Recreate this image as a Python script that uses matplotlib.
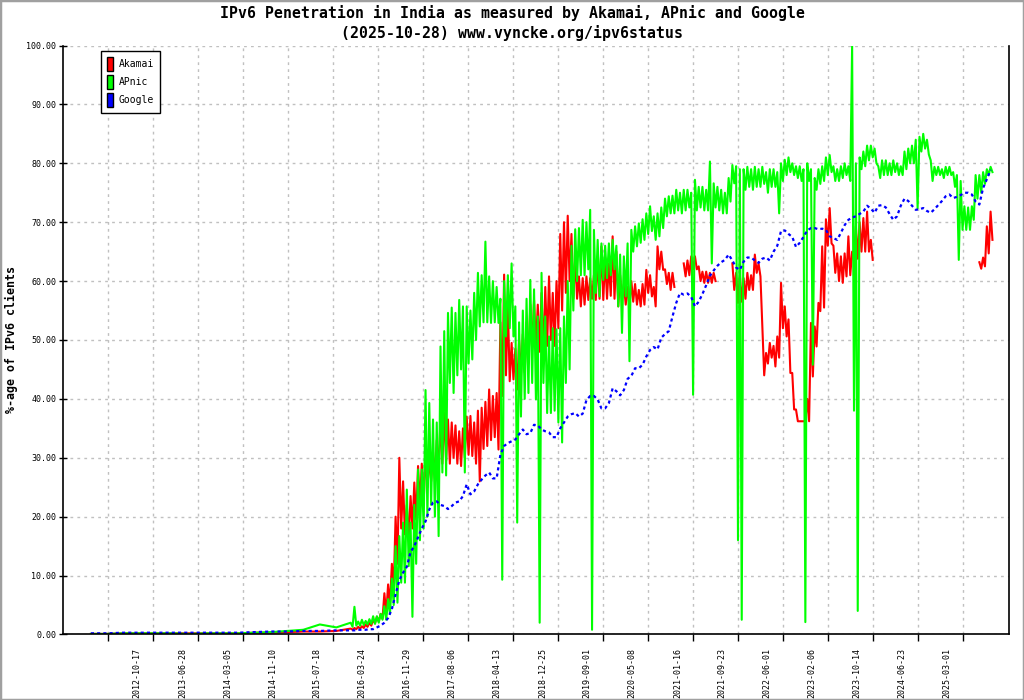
import numpy as np
import pandas as pd
import matplotlib
matplotlib.use("Agg")
import matplotlib.pyplot as plt
import matplotlib.dates as mdates
from matplotlib.patches import Patch, Rectangle

title = ("IPv6 Penetration in India as measured by Akamai, APnic and Google\n"
         "(2025-10-28) www.vyncke.org/ipv6status")
ylabel = "%-age of IPv6 clients"
names = ["Akamai", "APnic", "Google"]
colors = ["#ff0000", "#00ff00", "#0000ff"]
tick_labels = ["2012-10-17", "2013-06-28", "2014-03-05", "2014-11-10", "2015-07-18",
               "2016-03-24", "2016-11-29", "2017-08-06", "2018-04-13", "2018-12-25",
               "2019-09-01", "2020-05-08", "2021-01-16", "2021-09-23", "2022-06-01",
               "2023-02-06", "2023-10-14", "2024-06-23", "2025-03-01"]

# quarterly readings 2012-02 .. 2015-11, then 3-weekly readings 2016-01 .. 2025-10-28
early_dates = pd.date_range("2012-02-01", "2015-11-01", freq="3MS")
late_dates = pd.date_range("2016-01-20", "2025-10-28", periods=172)

akamai_early = [0.1, 0.1, 0.2, 0.2, 0.2, 0.2, 0.2, 0.2, 0.2, 0.2, 0.3, 0.3, 0.4, 0.5, 0.5, 0.6]
apnic_early = [0.1, 0.1, 0.2, 0.2, 0.2, 0.2, 0.1, 0.2, 0.2, 0.2, 0.3, 0.4, 0.6, 0.8, 1.7, 1.2]
google_early = [0.2, 0.2, 0.3, 0.3, 0.3, 0.3, 0.3, 0.3, 0.3, 0.3, 0.4, 0.5, 0.5, 0.6, 0.6, 0.7]

nan = np.nan
# daily values swing a lot: for each 3-week reading, the highest and lowest value seen
akamai_high = [
    1.0, 1.1, 1.3, 1.4, 1.7, 2.0, 2.5, 3.0, 3.5, 7.0,
    8.5, 12.0, 20.0, 30.0, 26.0, 22.0, 23.5, 25.8, 28.6, 29.0,
    30.8, 30.0, 31.0, 33.0, 37.0, 37.6, 36.5, 36.0, 35.5, 34.5,
    35.0, 37.0, 37.1, 36.0, 38.0, 38.5, 39.5, 41.6, 40.5, 41.0,
    53.0, 61.1, 56.0, 49.5, 48.5, 50.0, 51.0, 53.0, 56.0, 56.8,
    56.0, 58.0, 59.0, 60.8, 58.0, 60.0, 68.0, 70.0, 71.1, 68.0,
    64.0, 60.8, 60.5, 60.8, 60.5, 61.0, 64.2, 65.9, 64.0, 63.0,
    67.6, 65.0, 61.0, 59.5, 59.0, 60.0, 59.5, 58.5, 59.5, 61.9,
    61.0, 59.0, 65.9, 65.0, 62.0, 61.4, 61.4, nan, nan, 63.0,
    63.5, 64.2, 64.2, 62.5, 61.6, 61.6, 61.4, 61.4, nan, nan,
    nan, nan, 63.0, 61.4, 61.0, 60.5, 61.4, 61.0, 64.5, 63.0,
    52.3, 47.8, 49.5, 49.0, 50.6, 59.7, 55.7, 53.5, 44.4, 38.2,
    36.2, 36.2, 40.0, 52.9, 52.3, 56.3, 65.9, 70.5, 72.4, 66.0,
    64.7, 64.2, 64.7, 67.6, 65.0, 69.3, 70.0, 70.7, 71.8, 67.0,
    nan, nan, nan, nan, nan, nan, nan, nan, nan, nan,
    nan, nan, nan, nan, nan, nan, nan, nan, nan, nan,
    nan, nan, nan, nan, nan, nan, nan, nan, 63.2, 64.0,
    69.3, 71.8]
akamai_low = [
    0.8, 0.9, 1.0, 1.1, 1.3, 1.5, 1.9, 2.2, 2.7, 3.5,
    5.0, 8.0, 12.0, 18.0, 17.0, 16.0, 18.0, 19.5, 22.0, 22.4,
    25.0, 26.0, 26.5, 27.0, 29.0, 29.5, 29.0, 30.0, 29.0, 28.6,
    30.0, 30.5, 30.3, 29.0, 26.0, 31.5, 32.0, 33.0, 33.5, 31.4,
    40.5, 44.0, 43.0, 43.3, 41.6, 44.0, 44.5, 46.0, 48.4, 49.0,
    48.0, 47.2, 49.0, 50.0, 49.0, 52.0, 55.0, 58.0, 60.0, 57.0,
    57.0, 55.7, 56.0, 56.8, 57.0, 56.8, 57.0, 56.8, 57.0, 57.5,
    57.0, 55.7, 57.0, 56.0, 55.7, 56.5, 56.0, 55.7, 56.0, 58.0,
    57.4, 55.7, 62.0, 61.9, 59.5, 58.5, 59.0, nan, nan, 60.8,
    61.0, 62.0, 62.0, 60.0, 59.7, 59.7, 59.7, 60.0, nan, nan,
    nan, nan, 58.5, 56.3, 56.5, 57.0, 58.5, 58.5, 61.4, 60.8,
    44.0, 46.0, 47.0, 45.5, 47.0, 52.0, 50.6, 44.4, 38.2, 36.2,
    36.2, 36.2, 36.2, 43.8, 48.9, 54.9, 55.5, 66.0, 66.4, 61.4,
    60.0, 59.7, 60.8, 61.0, 63.5, 63.8, 65.0, 65.0, 65.0, 63.6,
    nan, nan, nan, nan, nan, nan, nan, nan, nan, nan,
    nan, nan, nan, nan, nan, nan, nan, nan, nan, nan,
    nan, nan, nan, nan, nan, nan, nan, nan, 62.1, 62.5,
    64.7, 67.0]

apnic_high = [
    2.0, 4.7, 2.2, 2.5, 2.3, 2.6, 3.1, 3.1, 3.5, 4.8,
    6.0, 9.5, 15.0, 16.7, 19.0, 24.6, 19.0, 22.0, 28.0, 28.0,
    41.5, 39.3, 36.5, 36.0, 48.9, 51.5, 54.6, 55.5, 54.6, 56.8,
    55.7, 55.7, 55.0, 58.0, 61.4, 61.0, 66.7, 60.8, 60.0, 59.0,
    57.0, 60.0, 61.0, 63.0, 55.7, 53.0, 55.0, 57.0, 60.2, 58.6,
    54.0, 61.4, 54.0, 50.6, 52.0, 51.8, 52.0, 54.0, 60.0, 66.0,
    68.8, 69.0, 70.4, 70.0, 72.1, 68.7, 67.0, 66.4, 66.0, 66.4,
    67.0, 66.0, 64.5, 64.2, 66.4, 68.7, 69.3, 69.8, 70.5, 71.5,
    72.7, 71.0, 71.5, 72.5, 74.0, 74.4, 74.5, 75.5, 75.0, 75.5,
    75.5, 75.0, 77.2, 76.0, 76.0, 75.5, 80.3, 76.6, 76.0, 75.5,
    75.0, 77.5, 79.7, 79.5, 79.0, 79.0, 79.4, 79.0, 79.4, 79.0,
    79.4, 78.5, 79.0, 79.0, 78.5, 80.0, 80.6, 81.0, 80.0, 79.5,
    79.5, 79.0, 80.0, 79.0, 77.5, 79.0, 79.5, 81.0, 81.4, 79.5,
    79.0, 79.5, 80.0, 79.5, 100.0, 80.0, 81.0, 82.0, 83.0, 83.0,
    82.5, 79.5, 80.5, 80.5, 80.0, 80.5, 80.0, 79.5, 82.0, 82.5,
    83.0, 84.0, 84.5, 85.0, 84.0, 80.5, 79.4, 79.4, 79.0, 79.4,
    79.4, 78.5, 78.0, 77.0, 72.7, 72.5, 72.7, 78.0, 78.0, 78.5,
    79.0, 79.4]
apnic_low = [
    1.3, 1.5, 1.5, 1.6, 1.7, 1.8, 1.8, 2.0, 2.5, 2.5,
    3.5, 5.0, 5.4, 8.8, 8.8, 11.6, 3.0, 12.0, 16.0, 18.0,
    20.0, 22.0, 20.0, 16.7, 27.5, 27.0, 42.7, 41.0, 44.0, 45.0,
    27.5, 46.0, 46.7, 50.0, 52.3, 53.0, 53.0, 52.9, 53.0, 52.9,
    9.3, 50.6, 52.0, 50.6, 19.0, 37.0, 40.0, 41.0, 42.7, 39.9,
    2.0, 42.7, 37.6, 37.6, 38.0, 36.0, 32.6, 42.7, 45.0, 55.0,
    60.0, 61.0, 61.0, 62.0, 0.8, 58.0, 57.4, 60.2, 60.5, 61.0,
    62.0, 55.7, 51.2, 57.4, 46.4, 65.0, 65.9, 66.5, 67.0, 68.0,
    68.5, 67.0, 67.6, 69.0, 71.0, 71.5, 71.5, 72.0, 71.5, 72.0,
    72.5, 40.7, 72.0, 72.5, 72.0, 72.0, 63.0, 72.5, 72.0, 71.5,
    71.5, 73.5, 76.6, 16.0, 2.5, 75.5, 76.0, 75.5, 76.0, 76.0,
    76.5, 75.0, 76.0, 76.0, 71.5, 77.0, 78.0, 78.5, 78.0, 77.5,
    77.0, 2.1, 77.0, 45.8, 75.5, 76.5, 77.0, 78.0, 78.5, 77.0,
    77.0, 77.5, 78.0, 77.0, 38.0, 4.0, 79.0, 79.5, 80.5, 81.0,
    80.0, 77.5, 78.0, 78.0, 78.0, 78.5, 78.0, 78.0, 79.0, 80.0,
    80.0, 72.4, 82.0, 82.5, 81.5, 77.0, 78.0, 78.0, 77.5, 78.0,
    78.0, 76.0, 63.6, 68.7, 68.7, 68.7, 70.4, 74.0, 75.0, 76.5,
    78.0, 78.5]

google_late = [
    0.7, 0.7, 0.8, 0.8, 0.8, 0.9, 0.9, 1.2, 1.5, 2.0,
    2.8, 4.3, 6.8, 9.2, 10.5, 11.5, 14.0, 15.0, 16.5, 18.0,
    19.2, 21.2, 22.4, 22.6, 22.0, 21.8, 21.3, 21.8, 22.4, 22.6,
    23.5, 25.5, 23.8, 24.3, 25.5, 26.3, 27.0, 27.5, 26.5, 26.5,
    30.5, 32.0, 32.5, 32.8, 33.1, 34.0, 34.8, 34.0, 34.2, 35.6,
    35.5, 34.8, 34.5, 34.3, 33.5, 33.5, 35.0, 36.0, 37.0, 37.4,
    37.6, 37.0, 37.5, 39.8, 40.5, 40.5, 39.9, 38.4, 38.4, 39.3,
    41.8, 41.3, 40.6, 41.5, 43.4, 43.9, 45.2, 45.2, 45.8, 47.2,
    48.3, 48.8, 48.4, 50.4, 51.0, 51.5, 54.0, 56.3, 58.0, 57.7,
    57.9, 57.3, 55.7, 56.5, 57.8, 59.3, 60.9, 61.8, 62.6, 63.2,
    63.6, 64.5, 63.5, 62.3, 61.9, 63.3, 64.0, 64.0, 63.5, 63.1,
    63.8, 64.0, 63.5, 65.0, 66.0, 68.5, 68.6, 68.0, 67.5, 65.8,
    66.5, 67.5, 68.6, 69.0, 69.0, 68.8, 68.9, 68.7, 67.6, 67.3,
    67.0, 68.2, 69.5, 70.4, 70.8, 71.0, 71.4, 71.8, 72.8, 72.3,
    71.6, 72.8, 72.9, 72.5, 71.4, 70.4, 71.0, 72.8, 74.0, 73.6,
    72.8, 72.1, 72.2, 72.4, 71.9, 71.6, 72.2, 72.9, 73.6, 74.4,
    74.7, 74.1, 74.3, 74.6, 75.0, 75.0, 74.7, 73.5, 73.0, 75.8,
    77.3, 78.9]


def swing(early, high, low):
    # early readings, then high/low of each 3-week window drawn as a zig-zag
    half = (late_dates[1] - late_dates[0]) / 2
    x = np.concatenate([early_dates.to_numpy(),
                        np.ravel(np.column_stack([late_dates.to_numpy(),
                                                  (late_dates + half).to_numpy()]))])
    y = np.concatenate([early, np.ravel(np.column_stack([high, low]))])
    return x, y


mono = "DejaVu Sans Mono"
fig = plt.figure(figsize=(10.24, 7.0), dpi=100)
ax = fig.add_axes([0.0618, 0.0936, 0.9236, 0.8414])

x, y = swing(akamai_early, akamai_high, akamai_low)
ax.plot(x, y, color=colors[0], lw=1.5)
x, y = swing(apnic_early, apnic_high, apnic_low)
ax.plot(x, y, color=colors[1], lw=1.5)
g_dates = early_dates.append(late_dates).to_numpy()
ax.plot(g_dates, google_early + google_late, color=colors[2], lw=1.6,
        linestyle=(0, (1.4, 1.4)))

ax.set_ylim(0, 100)
ax.set_xlim(pd.Timestamp("2011-08-31"), pd.Timestamp("2026-02-08"))

# x: gridlines/ticks sit between the date labels
label_pos = mdates.date2num(pd.to_datetime(tick_labels).to_numpy())
step = np.diff(label_pos).mean()
grid_pos = label_pos[0] - 0.645 * step + step * np.arange(len(tick_labels) + 1)
ax.set_xticks(grid_pos)
ax.set_xticklabels([])
ax.set_xticks(label_pos, minor=True)
ax.set_xticklabels(tick_labels, minor=True, rotation=90, fontsize=6, family=mono,
                   va="top", ha="center")
ax.tick_params(axis="x", which="major", direction="out", length=5, width=1)
ax.tick_params(axis="x", which="minor", length=0, pad=9.5)

yt = np.arange(0, 101, 10)
ax.set_yticks(yt)
ax.set_yticklabels(["%.2f" % v for v in yt], fontsize=6, family=mono)
ax.tick_params(axis="y", direction="inout", length=6, width=1, pad=2)

ax.grid(True, which="major", color="#c0c0c0", linestyle=(0, (2, 3)), lw=1)
ax.set_axisbelow(True)
ax.spines["top"].set_visible(False)
for s in ["left", "bottom", "right"]:
    ax.spines[s].set_linewidth(1.2)

handles = [Patch(facecolor=c, edgecolor="black", lw=1) for c in colors]
leg = ax.legend(handles, names, loc="upper left", bbox_to_anchor=(0.0395, 0.991),
                borderaxespad=0, prop={"family": mono, "size": 7},
                handlelength=0.62, handleheight=1.9, handletextpad=0.6,
                labelspacing=0.38, borderpad=0.62, fancybox=False, framealpha=1)
leg.get_frame().set_edgecolor("black")
leg.get_frame().set_linewidth(1)

fig.text(0.5, 1 - 23 / 700, title, ha="center", va="center", family=mono,
         fontsize=10.7, weight="bold", linespacing=1.3)
fig.text(11 / 1024, 0.5143, ylabel, rotation=90, ha="center", va="center",
         family=mono, fontsize=8.4, weight="bold")

fig.patches.append(Rectangle((0, 0), 1, 1, transform=fig.transFigure, fill=False,
                             edgecolor="#a0a0a0", lw=2.5))

fig.savefig("out.png", dpi=100)
